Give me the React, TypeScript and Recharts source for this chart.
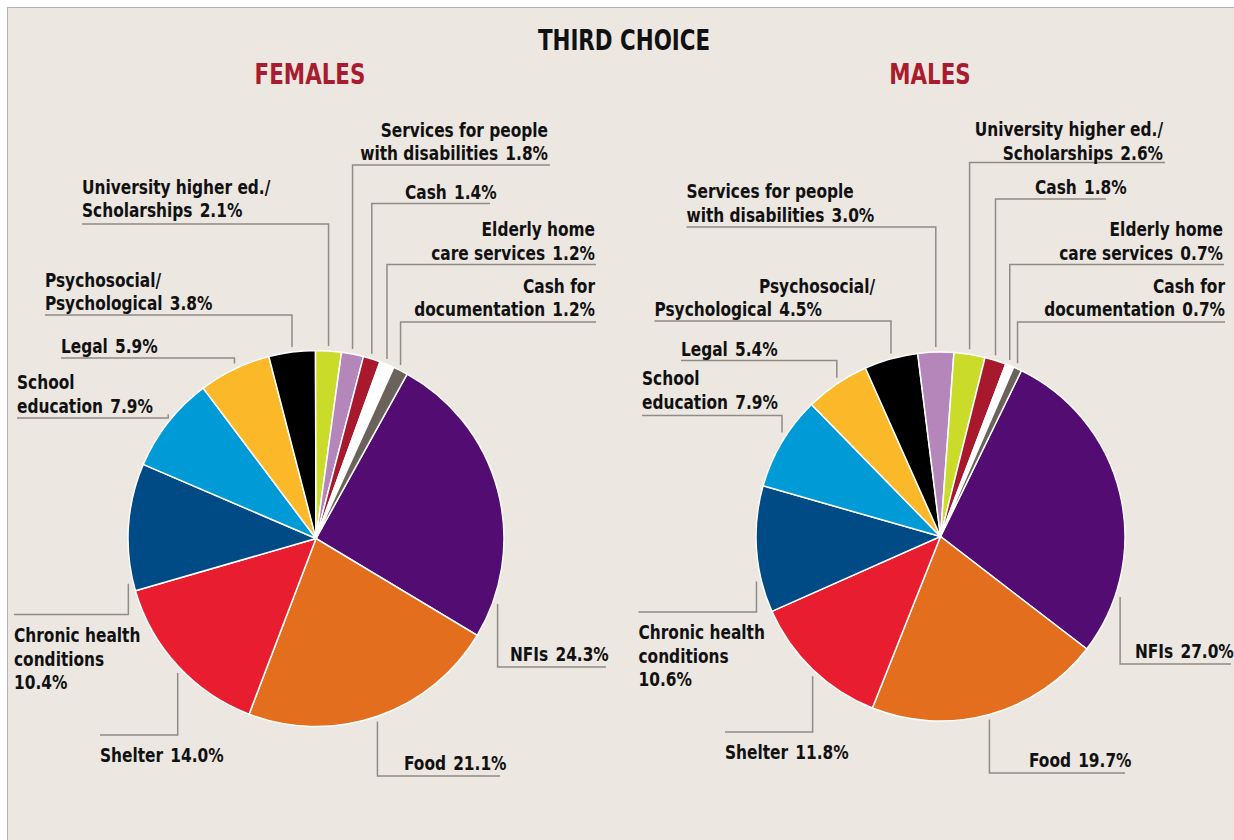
import { PieChart, Pie, Cell } from "recharts";

// slice order follows the drawing (clockwise from NFIs)
const FEMALE_CATEGORIES = [
  "NFIs",
  "Food",
  "Shelter",
  "Chronic health conditions",
  "School education",
  "Legal",
  "Psychosocial/Psychological",
  "University higher ed./Scholarships",
  "Services for people with disabilities",
  "Cash",
  "Elderly home care services",
  "Cash for documentation",
];
const FEMALE_VALUES = [24.3, 21.1, 14.0, 10.4, 7.9, 5.9, 3.8, 2.1, 1.8, 1.4, 1.2, 1.2];

const MALE_CATEGORIES = [
  "NFIs",
  "Food",
  "Shelter",
  "Chronic health conditions",
  "School education",
  "Legal",
  "Psychosocial/Psychological",
  "Services for people with disabilities",
  "University higher ed./Scholarships",
  "Cash",
  "Elderly home care services",
  "Cash for documentation",
];
const MALE_VALUES = [27.0, 19.7, 11.8, 10.6, 7.9, 5.4, 4.5, 3.0, 2.6, 1.8, 0.7, 0.7];

const COLORS: Record<string, string> = {
  NFIs: "#520c72",
  Food: "#e36f1e",
  Shelter: "#e81d2f",
  "Chronic health conditions": "#004a86",
  "School education": "#009bd6",
  Legal: "#fbb829",
  "Psychosocial/Psychological": "#000000",
  "University higher ed./Scholarships": "#cbdb2a",
  "Services for people with disabilities": "#b486ba",
  Cash: "#a8192e",
  "Elderly home care services": "#ffffff",
  "Cash for documentation": "#6b635b",
};

// how each label wraps; valueLine = percentage on its own line
const LABEL_LINES: Record<string, { lines: string[]; valueLine?: boolean }> = {
  NFIs: { lines: ["NFIs"] },
  Food: { lines: ["Food"] },
  Shelter: { lines: ["Shelter"] },
  "Chronic health conditions": { lines: ["Chronic health", "conditions"], valueLine: true },
  "School education": { lines: ["School", "education"] },
  Legal: { lines: ["Legal"] },
  "Psychosocial/Psychological": { lines: ["Psychosocial/", "Psychological"] },
  "University higher ed./Scholarships": { lines: ["University higher ed./", "Scholarships"] },
  "Services for people with disabilities": { lines: ["Services for people", "with disabilities"] },
  Cash: { lines: ["Cash"] },
  "Elderly home care services": { lines: ["Elderly home", "care services"] },
  "Cash for documentation": { lines: ["Cash for", "documentation"] },
};

type LabelPos = { x: number; y: number; end?: boolean; hy: number; hx: number; lineX?: (number | null)[] };

// label placement (page px), by slice index
const FEMALE_LAYOUT: LabelPos[] = [
  { x: 510, y: 660.5, hy: 667, hx: 606 },
  { x: 404, y: 770, hy: 776, hx: 500 },
  { x: 100, y: 761.5, hy: 735, hx: 100 },
  { x: 14, y: 642, hy: 614.5, hx: 14 },
  { x: 17, y: 389, hy: 418, hx: 17 },
  { x: 61, y: 352.5, hy: 358, hx: 61 },
  { x: 45, y: 286.5, hy: 315, hx: 45 },
  { x: 82, y: 193.5, hy: 224, hx: 82 },
  { x: 548, y: 136.5, end: true, hy: 165, hx: 550 },
  { x: 405, y: 199, hy: 203.5, hx: 490 },
  { x: 595, y: 236, end: true, hy: 264.5, hx: 596 },
  { x: 595, y: 292.5, end: true, hy: 322, hx: 596 },
];

const MALE_LAYOUT: LabelPos[] = [
  { x: 1135, y: 658, hy: 664, hx: 1231 },
  { x: 1029, y: 766.5, hy: 773, hx: 1125 },
  { x: 725, y: 759, hy: 732, hx: 725 },
  { x: 638.5, y: 639, hy: 612, hx: 638.5 },
  { x: 642, y: 385, hy: 415.5, hx: 642 },
  { x: 681, y: 356, hy: 360.5, hx: 681 },
  { x: 654.5, y: 292.5, hy: 321, hx: 654.5, lineX: [759, null] },
  { x: 686.5, y: 198, hy: 227, hx: 686.5 },
  { x: 1163, y: 136, end: true, hy: 162.5, hx: 1165 },
  { x: 1035, y: 194, hy: 199, hx: 1106 },
  { x: 1223, y: 236, end: true, hy: 264.5, hx: 1224 },
  { x: 1225, y: 292.5, end: true, hy: 322, hx: 1225 },
];

const RAD = Math.PI / 180;
const LINE_H = 23.5;
const GAP = 5;
const FONT = "'DejaVu Sans Condensed', 'DejaVu Sans', sans-serif";
const LABEL_SCALE = 0.9;
const TITLE_SCALE = 0.85;
const LEADER = "#8f8b87";

function makeLabel(categories: string[], values: number[], layout: LabelPos[]) {
  return (props: any) => {
    const { cx, cy, outerRadius, midAngle, index } = props;
    const pos = layout[index];
    const cat = categories[index];
    const spec = LABEL_LINES[cat];
    const value = `${values[index].toFixed(1)}%`;

    const vx = cx + outerRadius * Math.cos(-midAngle * RAD);
    const dx = vx - cx;
    const R = outerRadius + GAP;
    const h = Math.sqrt(Math.max(R * R - dx * dx, 0));
    const vy = pos.hy > cy ? cy + h : cy - h;

    const rows: { name: string; value?: string }[] = spec.lines.map((name, i) => ({
      name,
      value: !spec.valueLine && i === spec.lines.length - 1 ? value : undefined,
    }));
    if (spec.valueLine) rows.push({ name: value });

    return (
      <g>
        <path d={`M${pos.hx},${pos.hy}H${vx}V${vy}`} fill="none" stroke={LEADER} strokeWidth={1.5} />
        {rows.map((r, i) => (
          <text
            key={i}
            transform={`translate(${pos.lineX?.[i] ?? pos.x} ${pos.y + i * LINE_H}) scale(${LABEL_SCALE} 1)`}
            x={0}
            y={0}
            textAnchor={pos.end ? "end" : "start"}
            fontFamily={FONT}
            fontWeight={700}
            fontSize={19}
            fill="#111"
          >
            {r.name}
            {r.value && <tspan dx={8}>{r.value}</tspan>}
          </text>
        ))}
      </g>
    );
  };
}

function Title({ x, y, color, children }: { x: number; y: number; color: string; children: string }) {
  return (
    <text
      transform={`translate(${x} ${y}) scale(${TITLE_SCALE} 1)`}
      x={0}
      y={0}
      textAnchor="middle"
      fontFamily={FONT}
      fontWeight={700}
      fontSize={28}
      fill={color}
    >
      {children}
    </text>
  );
}

const femaleData = FEMALE_CATEGORIES.map((name, i) => ({ name, value: FEMALE_VALUES[i] }));
const maleData = MALE_CATEGORIES.map((name, i) => ({ name, value: MALE_VALUES[i] }));

export default function App() {
  return (
    <div style={{ position: "absolute", left: 0, top: 0, width: 1234, height: 840, background: "#fff" }}>
      <div
        style={{
          position: "absolute",
          left: 7,
          top: 7,
          right: 0,
          bottom: 0,
          background: "#ece7e1",
          borderTop: "1.5px solid #b4b4b4",
          borderLeft: "1.5px solid #b4b4b4",
        }}
      />
      <svg width={1234} height={840} style={{ position: "absolute", left: 0, top: 0 }}>
        <Title x={624} y={50} color="#111">THIRD CHOICE</Title>
        <Title x={310} y={84} color="#a81c30">FEMALES</Title>
        <Title x={930} y={84} color="#a81c30">MALES</Title>
      </svg>
      <div style={{ position: "absolute", left: 0, top: 0 }}>
        <PieChart width={1234} height={840} margin={{ top: 0, right: 0, bottom: 0, left: 0 }}>
          <Pie
            data={femaleData}
            dataKey="value"
            nameKey="name"
            cx={316}
            cy={538.5}
            outerRadius={188}
            startAngle={61}
            endAngle={-299}
            stroke="#ffffff"
            strokeWidth={1.5}
            label={makeLabel(FEMALE_CATEGORIES, FEMALE_VALUES, FEMALE_LAYOUT)}
            labelLine={false}
            isAnimationActive={false}
          >
            {femaleData.map((d) => (
              <Cell key={d.name} fill={COLORS[d.name]} />
            ))}
          </Pie>
          <Pie
            data={maleData}
            dataKey="value"
            nameKey="name"
            cx={940.5}
            cy={536.5}
            outerRadius={184.5}
            startAngle={64}
            endAngle={-296}
            stroke="#ffffff"
            strokeWidth={1.5}
            label={makeLabel(MALE_CATEGORIES, MALE_VALUES, MALE_LAYOUT)}
            labelLine={false}
            isAnimationActive={false}
          >
            {maleData.map((d) => (
              <Cell key={d.name} fill={COLORS[d.name]} />
            ))}
          </Pie>
        </PieChart>
      </div>
    </div>
  );
}
